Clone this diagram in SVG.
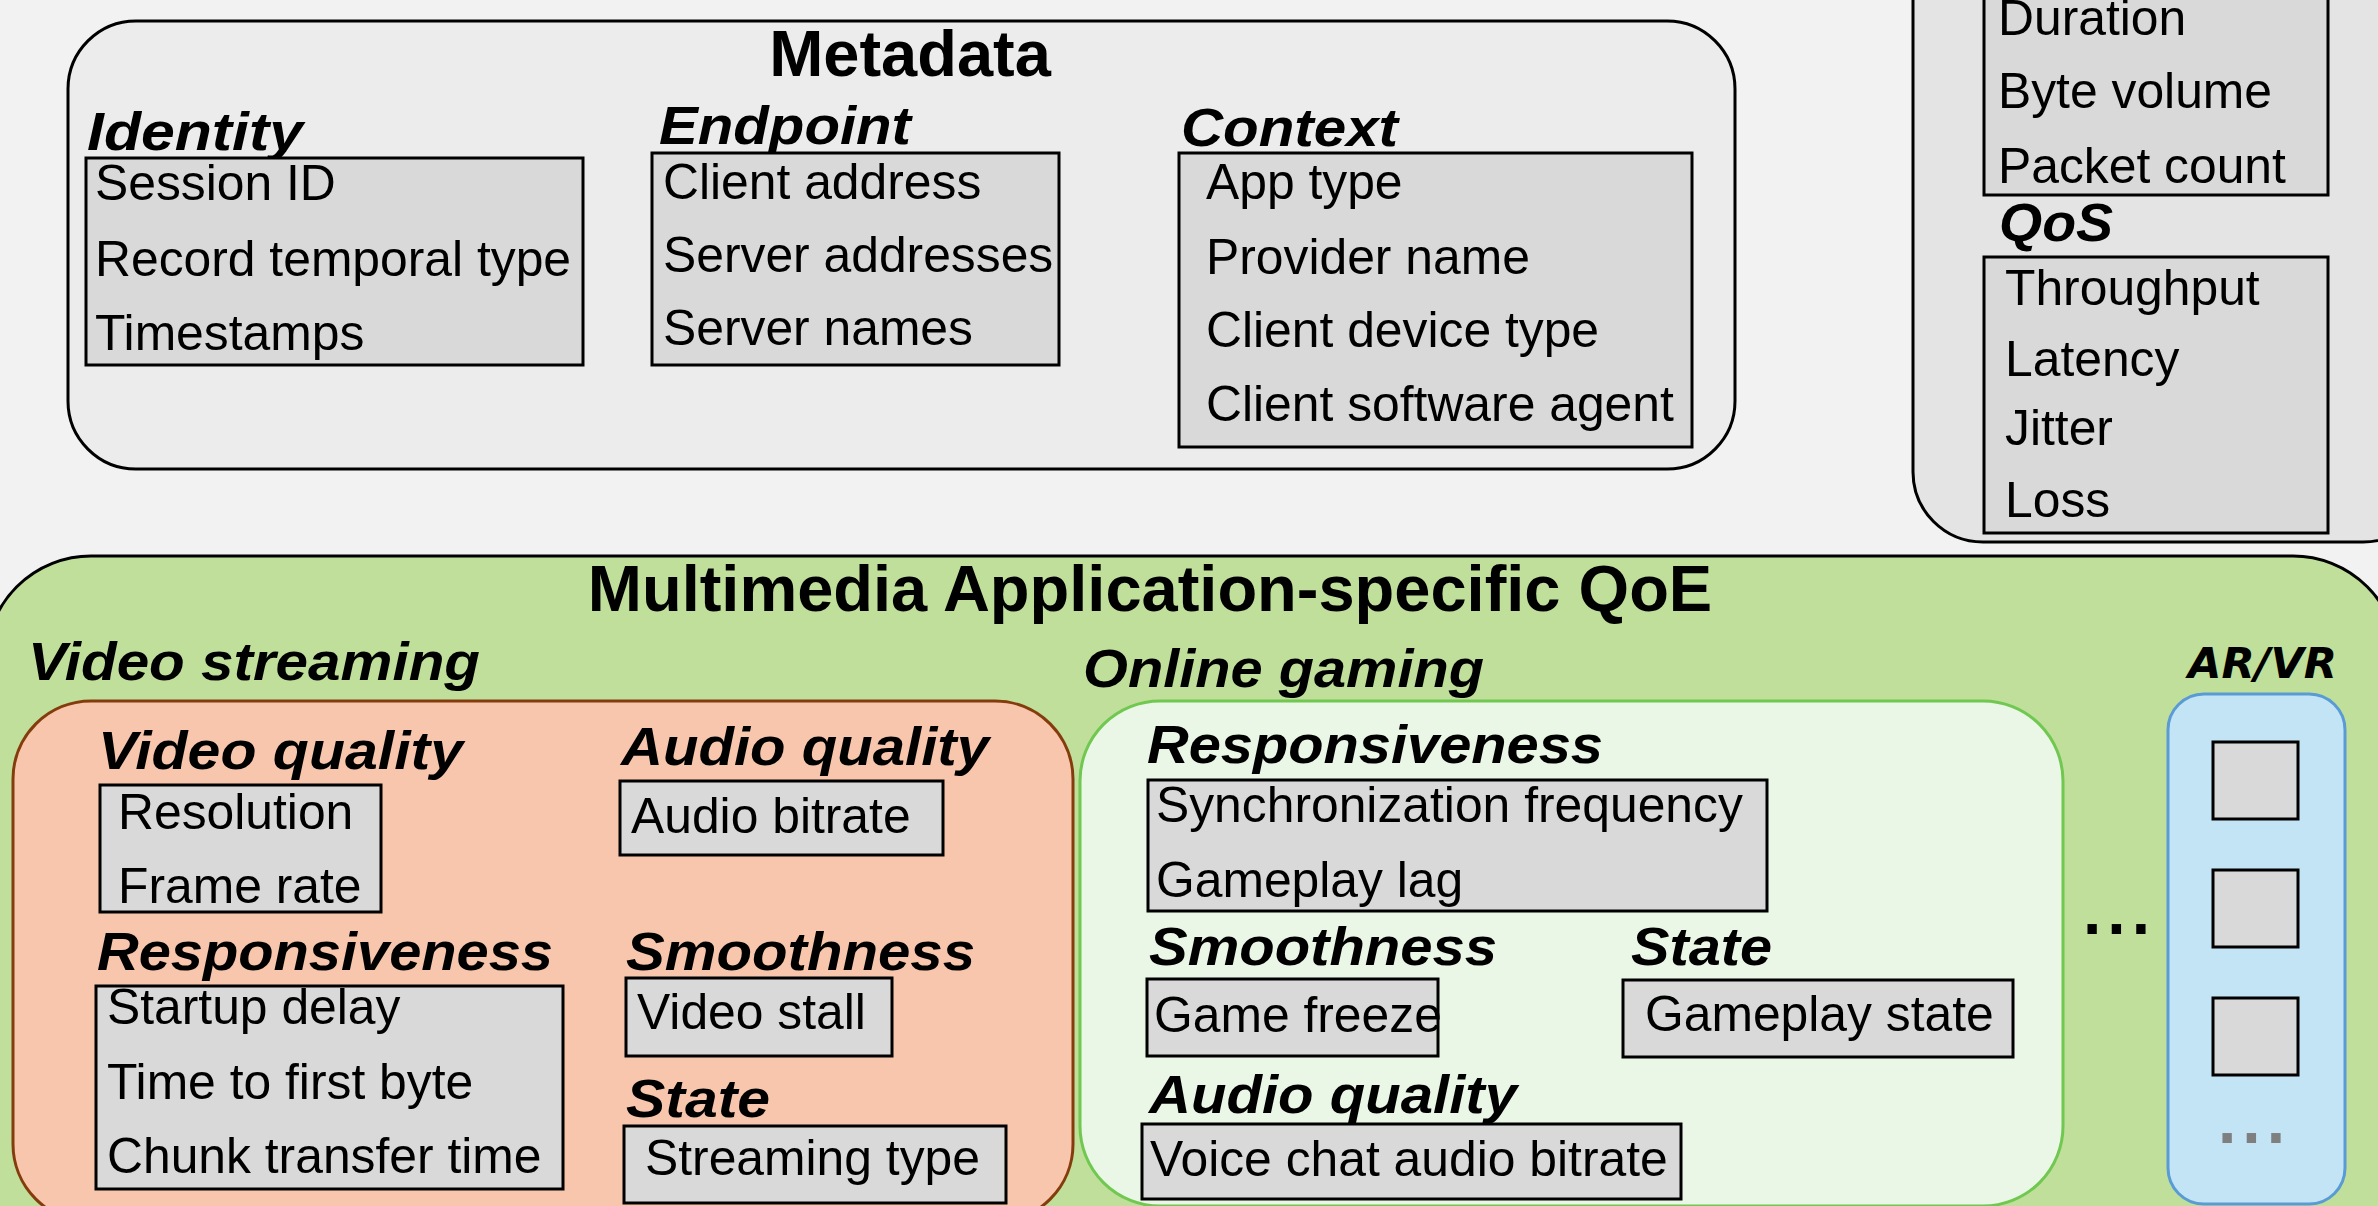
<svg xmlns="http://www.w3.org/2000/svg" width="2378" height="1206" viewBox="0 0 2378 1206">
<style>
.t{font-family:"Liberation Sans",Arial,sans-serif;font-size:49.8px;fill:#000}
.h{font-family:"Liberation Sans",Arial,sans-serif;font-size:54px;font-weight:bold;font-style:italic;fill:#000}
.ttl{font-family:"Liberation Sans",Arial,sans-serif;font-size:65px;font-weight:bold;fill:#000}
.item{fill:#d9d9d9;stroke:#000;stroke-width:3}
.dots{font-family:"Liberation Sans",Arial,sans-serif;font-size:66px;font-weight:bold;letter-spacing:6px}
</style>
<rect x="0" y="0" width="2378" height="1206" fill="#f2f2f2"/>

<g id="metadata">
<rect x="68" y="21" width="1667" height="448" rx="68" fill="#ececec" stroke="#000" stroke-width="3"/>
<text class="ttl" x="910" y="76" text-anchor="middle">Metadata</text>
<g id="identity">
<text class="h" x="87" y="150" textLength="216" lengthAdjust="spacingAndGlyphs">Identity</text>
<rect class="item" x="86" y="158" width="497" height="207"/>
<text class="t" x="95" y="200">Session ID</text>
<text class="t" x="95" y="276">Record temporal type</text>
<text class="t" x="95" y="350">Timestamps</text>
</g>
<g id="endpoint">
<text class="h" x="659" y="144" textLength="252" lengthAdjust="spacingAndGlyphs">Endpoint</text>
<rect class="item" x="652" y="153" width="407" height="212"/>
<text class="t" x="663" y="199">Client address</text>
<text class="t" x="663" y="272">Server addresses</text>
<text class="t" x="663" y="345">Server names</text>
</g>
<g id="context">
<text class="h" x="1181" y="146" textLength="217" lengthAdjust="spacingAndGlyphs">Context</text>
<rect class="item" x="1179" y="153" width="513" height="294"/>
<text class="t" x="1206" y="199">App type</text>
<text class="t" x="1206" y="274">Provider name</text>
<text class="t" x="1206" y="347">Client device type</text>
<text class="t" x="1206" y="421">Client software agent</text>
</g>
</g>

<g id="flow-qos">
<rect x="1913" y="-120" width="520" height="662" rx="70" fill="#e4e4e4" stroke="#000" stroke-width="3"/>
<g id="volume">
<rect class="item" x="1984" y="-30" width="344" height="225"/>
<text class="t" x="1998" y="35">Duration</text>
<text class="t" x="1998" y="108">Byte volume</text>
<text class="t" x="1998" y="183">Packet count</text>
</g>
<g id="qos">
<text class="h" x="1999" y="241" textLength="114" lengthAdjust="spacingAndGlyphs">QoS</text>
<rect class="item" x="1984" y="257" width="344" height="276"/>
<text class="t" x="2005" y="305">Throughput</text>
<text class="t" x="2005" y="376">Latency</text>
<text class="t" x="2005" y="445">Jitter</text>
<text class="t" x="2005" y="517">Loss</text>
</g>
</g>

<g id="multimedia-qoe">
<rect x="-14" y="556" width="2412" height="720" rx="105" fill="#bfdf9b" stroke="#000" stroke-width="3"/>
<text class="ttl" x="1150" y="611" text-anchor="middle">Multimedia Application-specific QoE</text>
<text class="h" x="28" y="680" textLength="452" lengthAdjust="spacingAndGlyphs">Video streaming</text>
<text class="h" x="1083" y="687" textLength="401" lengthAdjust="spacingAndGlyphs">Online gaming</text>
<text x="2188" y="678" style="font-family:'DejaVu Sans',Verdana,sans-serif;font-size:43px;font-weight:bold;font-style:italic" textLength="149" lengthAdjust="spacingAndGlyphs">AR/VR</text>
<text class="dots" x="2083" y="934" fill="#000">...</text>
</g>

<g id="video-streaming">
<rect x="13" y="701" width="1060" height="521" rx="78" fill="#f7c6ac" stroke="#843c0c" stroke-width="3"/>
<g id="vs-video-quality">
<text class="h" x="98" y="769" textLength="365" lengthAdjust="spacingAndGlyphs">Video quality</text>
<rect class="item" x="100" y="785" width="281" height="127"/>
<text class="t" x="118" y="829">Resolution</text>
<text class="t" x="118" y="903">Frame rate</text>
</g>
<g id="vs-audio-quality">
<text class="h" x="621" y="765" textLength="368" lengthAdjust="spacingAndGlyphs">Audio quality</text>
<rect class="item" x="620" y="781" width="323" height="74"/>
<text class="t" x="631" y="833">Audio bitrate</text>
</g>
<g id="vs-responsiveness">
<text class="h" x="97" y="970" textLength="456" lengthAdjust="spacingAndGlyphs">Responsiveness</text>
<rect class="item" x="96" y="986" width="467" height="203"/>
<text class="t" x="107" y="1024">Startup delay</text>
<text class="t" x="107" y="1099">Time to first byte</text>
<text class="t" x="107" y="1173">Chunk transfer time</text>
</g>
<g id="vs-smoothness">
<text class="h" x="626" y="970" textLength="349" lengthAdjust="spacingAndGlyphs">Smoothness</text>
<rect class="item" x="626" y="978" width="266" height="78"/>
<text class="t" x="637" y="1029">Video stall</text>
</g>
<g id="vs-state">
<text class="h" x="626" y="1117" textLength="144" lengthAdjust="spacingAndGlyphs">State</text>
<rect class="item" x="624" y="1126" width="382" height="77"/>
<text class="t" x="645" y="1175">Streaming type</text>
</g>
</g>

<g id="online-gaming">
<rect x="1080" y="701" width="983" height="505" rx="80" fill="#ebf7e6" stroke="#70c850" stroke-width="3"/>
<g id="og-responsiveness">
<text class="h" x="1147" y="763" textLength="456" lengthAdjust="spacingAndGlyphs">Responsiveness</text>
<rect class="item" x="1148" y="780" width="619" height="131"/>
<text class="t" x="1156" y="822">Synchronization frequency</text>
<text class="t" x="1156" y="897">Gameplay lag</text>
</g>
<g id="og-smoothness">
<text class="h" x="1149" y="965" textLength="348" lengthAdjust="spacingAndGlyphs">Smoothness</text>
<rect class="item" x="1147" y="979" width="291" height="77"/>
<text class="t" x="1154" y="1032">Game freeze</text>
</g>
<g id="og-state">
<text class="h" x="1631" y="965" textLength="141" lengthAdjust="spacingAndGlyphs">State</text>
<rect class="item" x="1623" y="980" width="390" height="77"/>
<text class="t" x="1645" y="1031">Gameplay state</text>
</g>
<g id="og-audio-quality">
<text class="h" x="1149" y="1113" textLength="368" lengthAdjust="spacingAndGlyphs">Audio quality</text>
<rect class="item" x="1142" y="1124" width="539" height="75"/>
<text class="t" x="1150" y="1176">Voice chat audio bitrate</text>
</g>
</g>

<g id="ar-vr">
<rect x="2168" y="694" width="177" height="510" rx="36" fill="#c2e4f4" stroke="#5b9bd5" stroke-width="3"/>
<rect class="item" x="2213" y="742" width="85" height="77"/>
<rect class="item" x="2213" y="870" width="85" height="77"/>
<rect class="item" x="2213" y="998" width="85" height="77"/>
<text class="dots" x="2218" y="1143" fill="#7f7f7f">...</text>
</g>

<g id="connectors"/>
</svg>
